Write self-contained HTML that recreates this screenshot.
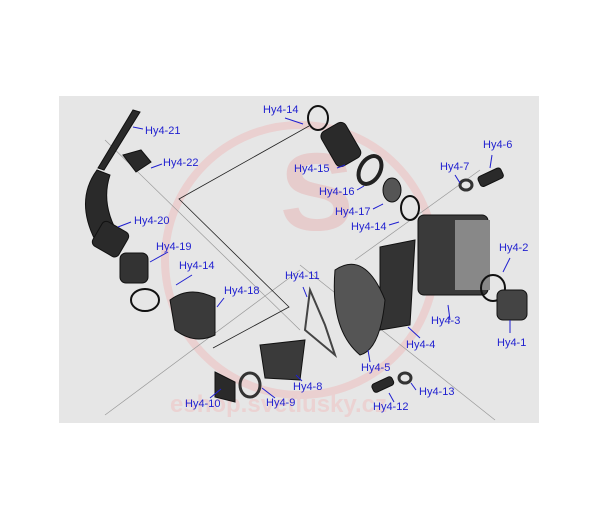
<!DOCTYPE html>
<html><head><style>
body{margin:0;width:600px;height:527px;background:#fff;overflow:hidden;position:relative;font-family:"Liberation Sans",sans-serif}
.l{position:absolute;font-size:11px;color:#1f1fd0;line-height:13px;white-space:nowrap}
</style></head><body>
<svg width="600" height="527" style="position:absolute;left:0;top:0">
<rect x="59" y="96" width="480" height="327" fill="#e6e6e6"/>
<circle cx="300" cy="260" r="135" fill="none" stroke="#ead0d0" stroke-width="8"/>
<text x="280" y="230" font-size="110" font-family="Liberation Sans" fill="#e6cccc" font-weight="bold">S</text>
<text x="170" y="412" font-size="24" font-family="Liberation Sans" fill="#ebd2d2" font-weight="bold">eshop.svetlusky.cz</text>
<g stroke="#999" stroke-width="0.7" fill="none"><line x1="105" y1="140" x2="300" y2="330"/><line x1="105" y1="415" x2="300" y2="270"/><line x1="300" y1="265" x2="495" y2="420"/><line x1="355" y1="260" x2="480" y2="170"/></g>
<polyline points="309,126 179,199 289,307 213,348" fill="none" stroke="#222" stroke-width="0.8"/>
<g fill="#2a2a2a" stroke="#111">
<polygon points="133,110 140,112 104,170 98,168"/>
<path d="M97,170 Q75,200 95,240 L112,255 L120,237 Q100,205 110,175 Z"/>
<rect x="95" y="225" width="30" height="28" rx="5" transform="rotate(30 110 240)"/>
<rect x="120" y="253" width="28" height="30" rx="6" fill="#333"/>
<path d="M123,155 l18,-5 l10,12 l-15,10 z"/>
<ellipse cx="318" cy="118" rx="10" ry="12" fill="none" stroke="#111" stroke-width="2"/>
<rect x="327" y="125" width="28" height="40" rx="6" transform="rotate(-30 340 145)"/>
<ellipse cx="370" cy="170" rx="10" ry="15" fill="none" stroke="#222" stroke-width="4" transform="rotate(30 370 170)"/>
<ellipse cx="392" cy="190" rx="9" ry="12" fill="#555"/>
<ellipse cx="410" cy="208" rx="9" ry="12" fill="none" stroke="#111" stroke-width="2"/>
<rect x="418" y="215" width="70" height="80" rx="6" fill="#3a3a3a"/>
<rect x="455" y="220" width="35" height="70" fill="#888" stroke="none"/>
<ellipse cx="493" cy="288" rx="12" ry="13" fill="none" stroke="#111" stroke-width="2"/>
<rect x="497" y="290" width="30" height="30" rx="6" fill="#444"/>
<ellipse cx="466" cy="185" rx="6" ry="5" fill="none" stroke="#333" stroke-width="3"/>
<rect x="478" y="172" width="25" height="11" rx="3" transform="rotate(-25 490 177)"/>
<polygon points="380,247 415,240 410,325 380,330" fill="#333"/>
<path d="M335,270 Q365,250 385,300 Q380,350 360,355 Q330,330 335,270 Z" fill="#555"/>
<path d="M310,290 L325,325 L335,355 L305,330 Z" fill="none" stroke="#444" stroke-width="2"/>
<path d="M170,300 Q190,285 215,298 L215,335 Q195,345 175,330 Z" fill="#3a3a3a"/>
<ellipse cx="145" cy="300" rx="14" ry="11" fill="none" stroke="#111" stroke-width="2"/>
<path d="M260,345 L305,340 L300,380 L265,378 Z" fill="#3a3a3a"/>
<ellipse cx="250" cy="385" rx="10" ry="12" fill="none" stroke="#333" stroke-width="3"/>
<path d="M215,372 l20,10 l0,20 l-20,-5 z"/>
<rect x="372" y="380" width="22" height="9" rx="3" transform="rotate(-25 383 385)"/>
<ellipse cx="405" cy="378" rx="6" ry="5" fill="none" stroke="#333" stroke-width="3"/>
</g>
<g stroke="#1f1fd0" stroke-width="1">
<line x1="285" y1="118" x2="303" y2="124"/><line x1="133" y1="127" x2="143" y2="129"/>
<line x1="151" y1="168" x2="162" y2="164"/><line x1="118" y1="227" x2="131" y2="222"/>
<line x1="150" y1="262" x2="168" y2="252"/><line x1="176" y1="285" x2="192" y2="275"/>
<line x1="217" y1="307" x2="224" y2="298"/><line x1="307" y1="297" x2="303" y2="287"/>
<line x1="337" y1="168" x2="345" y2="165"/><line x1="357" y1="190" x2="364" y2="186"/>
<line x1="373" y1="209" x2="383" y2="204"/><line x1="389" y1="225" x2="399" y2="222"/>
<line x1="455" y1="175" x2="460" y2="183"/><line x1="492" y1="155" x2="490" y2="168"/>
<line x1="510" y1="258" x2="503" y2="272"/><line x1="450" y1="320" x2="448" y2="305"/>
<line x1="510" y1="333" x2="510" y2="320"/><line x1="420" y1="338" x2="408" y2="327"/>
<line x1="370" y1="362" x2="368" y2="350"/><line x1="416" y1="390" x2="411" y2="383"/>
<line x1="394" y1="402" x2="389" y2="393"/><line x1="302" y1="381" x2="296" y2="375"/>
<line x1="275" y1="398" x2="262" y2="388"/><line x1="210" y1="398" x2="221" y2="389"/>
</g>
</svg>
<div class="l" style="left:263px;top:104px">Hy4-14</div>
<div class="l" style="left:145px;top:125px">Hy4-21</div>
<div class="l" style="left:163px;top:157px">Hy4-22</div>
<div class="l" style="left:134px;top:215px">Hy4-20</div>
<div class="l" style="left:156px;top:241px">Hy4-19</div>
<div class="l" style="left:179px;top:260px">Hy4-14</div>
<div class="l" style="left:224px;top:285px">Hy4-18</div>
<div class="l" style="left:285px;top:270px">Hy4-11</div>
<div class="l" style="left:294px;top:163px">Hy4-15</div>
<div class="l" style="left:319px;top:186px">Hy4-16</div>
<div class="l" style="left:335px;top:206px">Hy4-17</div>
<div class="l" style="left:351px;top:221px">Hy4-14</div>
<div class="l" style="left:440px;top:161px">Hy4-7</div>
<div class="l" style="left:483px;top:139px">Hy4-6</div>
<div class="l" style="left:499px;top:242px">Hy4-2</div>
<div class="l" style="left:431px;top:315px">Hy4-3</div>
<div class="l" style="left:497px;top:337px">Hy4-1</div>
<div class="l" style="left:406px;top:339px">Hy4-4</div>
<div class="l" style="left:361px;top:362px">Hy4-5</div>
<div class="l" style="left:419px;top:386px">Hy4-13</div>
<div class="l" style="left:373px;top:401px">Hy4-12</div>
<div class="l" style="left:293px;top:381px">Hy4-8</div>
<div class="l" style="left:266px;top:397px">Hy4-9</div>
<div class="l" style="left:185px;top:398px">Hy4-10</div>
</body></html>
